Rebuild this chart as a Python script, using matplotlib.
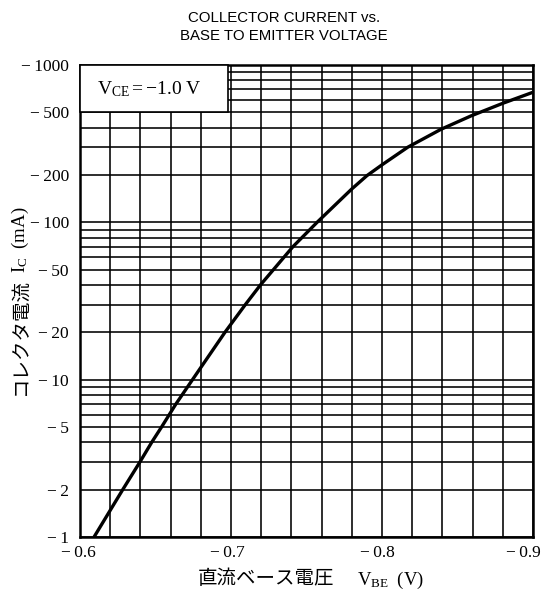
import numpy as np
import matplotlib
matplotlib.use("Agg")
import matplotlib.pyplot as plt
from matplotlib.ticker import FixedLocator, FixedFormatter, NullFormatter
from matplotlib.patches import Rectangle
from matplotlib.transforms import ScaledTranslation

# ---- data ----
vbe_v = [-0.6093, -0.6283, -0.6397, -0.6475, -0.6540, -0.6635, -0.6745, -0.696,
         -0.7095, -0.7195, -0.741, -0.757, -0.780, -0.790, -0.800, -0.817,
         -0.839, -0.859, -0.880, -0.900]
ic_ma = [-1, -2, -3, -4, -5, -7, -10, -20,
         -30, -40, -70, -100, -163, -198, -232, -300,
         -390, -475, -571, -671]

x_major = [-0.6, -0.7, -0.8, -0.9]
x_labels = ["\u2212\u20090.6", "\u2212\u20090.7", "\u2212\u20090.8", "\u2212\u20090.9"]
y_major = [1, 2, 5, 10, 20, 50, 100, 200, 500, 1000]
y_labels = ["\u2212\u20091", "\u2212\u20092", "\u2212\u20095", "\u2212\u200910",
            "\u2212\u200920", "\u2212\u200950", "\u2212\u2009100", "\u2212\u2009200",
            "\u2212\u2009500", "\u2212\u20091000"]

plt.rcParams['mathtext.fontset'] = 'custom'
plt.rcParams['mathtext.rm'] = 'Liberation Serif'
plt.rcParams['mathtext.it'] = 'Liberation Serif:italic'
plt.rcParams['mathtext.bf'] = 'Liberation Serif:bold'

fig = plt.figure(figsize=(5.44, 6.01), dpi=100)
ax = fig.add_axes([80/544, 64/601, 453/544, 472/601])

ax.plot(np.array(vbe_v), np.abs(np.array(ic_ma)), color='black', lw=2.4,
        solid_capstyle='butt', solid_joinstyle='round', zorder=5, clip_on=True)

ax.set_yscale('log')
ax.set_xlim(-0.6, -0.9)
ax.set_ylim(1, 1000)

# ticks / labels
ax.xaxis.set_major_locator(FixedLocator(x_major))
ax.xaxis.set_major_formatter(FixedFormatter(x_labels))
x_minor = [-0.6 - 0.02 * i for i in range(16)]
ax.xaxis.set_minor_locator(FixedLocator(x_minor))
ax.xaxis.set_minor_formatter(NullFormatter())

ax.yaxis.set_major_locator(FixedLocator(y_major))
ax.yaxis.set_major_formatter(FixedFormatter(y_labels))
y_minor = [k * 10 ** d for d in range(3) for k in range(2, 11)]
ax.yaxis.set_minor_locator(FixedLocator(y_minor))
ax.yaxis.set_minor_formatter(NullFormatter())

ax.tick_params(which='both', length=0)
ax.tick_params(axis='y', pad=8)
ax.tick_params(axis='x', pad=6)
x_shift_px = [-2, -4, -5, -10]
for lab, dx in zip(ax.get_xticklabels(), x_shift_px):
    lab.set_fontfamily('Liberation Serif')
    lab.set_fontsize(12.5)
    lab.set_transform(lab.get_transform() + ScaledTranslation(dx/100, 0, fig.dpi_scale_trans))
for lab in ax.get_yticklabels():
    lab.set_fontfamily('Liberation Serif')
    lab.set_fontsize(12.5)

ax.grid(which='both', color='black', lw=1.15)
ax.set_axisbelow(True)
for s in ax.spines.values():
    s.set_linewidth(1.8)

# condition box
ax.add_patch(Rectangle((0, 0.9004), 0.327, 0.0996, transform=ax.transAxes,
                       facecolor='white', edgecolor='black', lw=1.2, zorder=3,
                       clip_on=False))
ax.text(0.038, 0.949, r"$\mathrm{V_{CE}=-1.0\ V}$", transform=ax.transAxes,
        ha='left', va='center', fontsize=14, zorder=4)

# title
fig.text(0.522, 1 - 27/601, "COLLECTOR CURRENT vs.\nBASE TO EMITTER VOLTAGE",
         ha='center', va='center', fontsize=10.8, family='Liberation Sans',
         linespacing=1.45)

# x label
fig.text(334/544, 1 - 579/601, "直流ベース電圧", ha='right', va='center',
         fontsize=14, family=['Noto Sans CJK JP', 'DejaVu Sans'])
fig.text(357/544, 1 - 580/601, r"$\mathrm{V_{BE}\ \ (V)}$", ha='left', va='center',
         fontsize=13.5)

# y label
fig.text(20/544, 1 - 337/601, "コレクタ電流", ha='center', va='center',
         rotation=90, fontsize=14, family=['Noto Sans CJK JP', 'DejaVu Sans'])
fig.text(20/544, 1 - 240/601, r"$\mathrm{I_C\ \ (mA)}$", ha='center', va='center',
         rotation=90, fontsize=13.5)

fig.savefig("out.png", dpi=100, facecolor='white')
